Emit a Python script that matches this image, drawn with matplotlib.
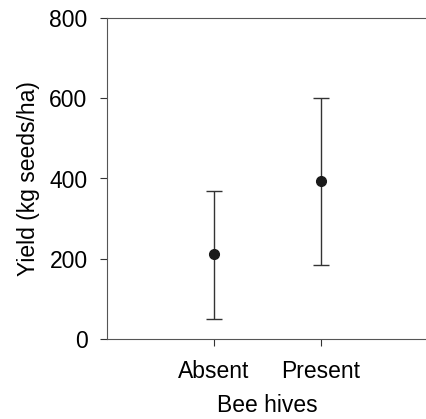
import numpy as np
import matplotlib.pyplot as plt

plt.rcParams['font.family'] = ['Liberation Sans', 'DejaVu Sans']

groups = ["Absent", "Present"]
means = [211, 394]
upper = [370, 601]
lower = [51, 185]

x = np.arange(1, len(groups) + 1)
yerr = [np.array(means) - np.array(lower), np.array(upper) - np.array(means)]

fig = plt.figure(figsize=(4.27, 4.19), dpi=100)
ax = fig.add_axes([107 / 427, 1 - 339 / 419, 321 / 427, 321 / 419])

ax.errorbar(x, means, yerr=yerr, fmt='o', color='#1a1a1a', ecolor='#333333',
            markersize=7, elinewidth=1, capsize=6, capthick=1)

ax.set_xlim(0, 3)
ax.set_ylim(0, 800)
ax.set_xticks(x)
ax.set_xticklabels(groups)
ax.set_yticks([0, 200, 400, 600, 800])
ax.tick_params(direction='out', length=5, labelsize=16.5, color='#333333')
ax.tick_params(axis='y', pad=9)
ax.tick_params(axis='x', pad=10)
ax.spines['right'].set_visible(False)
for s in ['left', 'top', 'bottom']:
    ax.spines[s].set_color('#555555')
ax.set_xlabel("Bee hives", fontsize=16.5, labelpad=8)
ax.set_ylabel("Yield (kg seeds/ha)", fontsize=16.5, labelpad=7)

fig.savefig("out.png", dpi=100)
